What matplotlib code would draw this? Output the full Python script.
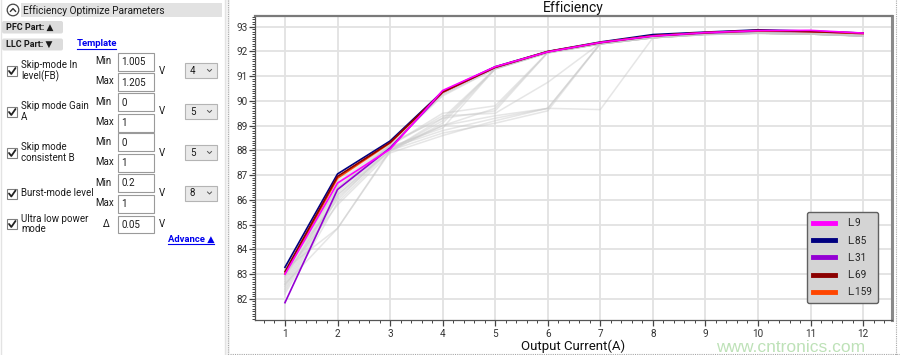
import matplotlib
matplotlib.use("Agg")
import matplotlib.pyplot as plt
from matplotlib.patches import FancyBboxPatch, Rectangle, Circle
from matplotlib.ticker import MultipleLocator

# ---------------- data ----------------
x_current = [1, 2, 3, 4, 5, 6, 7, 8, 9, 10, 11, 12]

L9 = [83.00, 86.68, 88.05, 90.42, 91.38, 91.98, 92.36, 92.62, 92.76, 92.84, 92.85, 92.74]
L85 = [83.28, 87.05, 88.38, 90.38, 91.38, 92.00, 92.38, 92.68, 92.78, 92.87, 92.82, 92.74]
L31 = [81.85, 86.42, 88.10, 90.35, 91.35, 91.98, 92.35, 92.62, 92.74, 92.82, 92.80, 92.72]
L69 = [83.10, 86.95, 88.32, 90.36, 91.36, 91.99, 92.36, 92.63, 92.76, 92.85, 92.80, 92.74]
L159 = [83.02, 86.88, 88.30, 90.35, 91.36, 91.99, 92.36, 92.63, 92.76, 92.83, 92.80, 92.72]

gray_runs = [
    [83.20, 86.90, 88.35, 90.30, 91.35, 91.97, 92.33, 92.58, 92.70, 92.76, 92.74, 92.66],
    [83.00, 86.70, 88.25, 90.25, 91.30, 91.95, 92.30, 92.55, 92.68, 92.74, 92.72, 92.64],
    [82.70, 86.50, 88.20, 90.20, 91.30, 91.93, 92.30, 92.55, 92.68, 92.73, 92.70, 92.62],
    [82.50, 86.30, 88.15, 90.30, 91.32, 91.95, 92.32, 92.56, 92.70, 92.75, 92.72, 92.64],
    [82.30, 86.10, 88.00, 89.30, 91.30, 91.96, 92.31, 92.56, 92.70, 92.74, 92.70, 92.63],
    [82.90, 86.20, 88.00, 89.00, 89.70, 91.95, 92.30, 92.55, 92.70, 92.74, 92.70, 92.63],
    [83.20, 84.85, 88.00, 89.20, 91.30, 91.95, 92.30, 92.55, 92.68, 92.74, 92.70, 92.63],
    [82.60, 84.85, 87.95, 89.10, 91.28, 91.94, 92.30, 92.55, 92.68, 92.73, 92.70, 92.62],
    [83.30, 86.00, 88.10, 88.80, 89.30, 89.70, 92.32, 92.56, 92.70, 92.74, 92.70, 92.63],
    [83.00, 85.80, 87.90, 88.60, 89.20, 89.70, 89.65, 92.55, 92.70, 92.74, 92.70, 92.63],
    [82.60, 86.40, 88.20, 89.40, 89.50, 90.75, 92.33, 92.56, 92.70, 92.74, 92.70, 92.63],
    [82.80, 86.60, 88.20, 89.50, 89.80, 91.96, 92.31, 92.56, 92.69, 92.74, 92.70, 92.63],
    [82.40, 86.20, 88.10, 89.00, 89.40, 89.70, 92.30, 92.55, 92.69, 92.73, 92.70, 92.62],
    [82.20, 85.90, 88.00, 88.70, 89.10, 89.60, 92.31, 92.55, 92.69, 92.73, 92.70, 92.62],
    [82.90, 86.80, 88.30, 89.30, 89.60, 91.95, 92.31, 92.56, 92.70, 92.74, 92.71, 92.63],
    [83.10, 86.50, 88.15, 88.90, 91.30, 91.95, 92.31, 92.56, 92.70, 92.74, 92.71, 92.63],
]

series_names = ["L.9", "L.85", "L.31", "L.69", "L.159"]
series_values = [L9, L85, L31, L69, L159]
series_colors = ["#ff00ff", "#000080", "#9400d3", "#8b0000", "#ff4500"]

x_ticks = list(range(1, 13))
y_ticks = list(range(82, 94))

FONT = ["Roboto", "DejaVu Sans"]
plt.rcParams["font.family"] = FONT

W, H = 900, 355
fig = plt.figure(figsize=(W / 100, H / 100), dpi=100)
fig.patch.set_facecolor("white")

# ---------------- UI overlay (pixel coordinates) ----------------
ui = fig.add_axes([0, 0, 1, 1], zorder=0)
ui.set_xlim(0, W)
ui.set_ylim(H, 0)
ui.axis("off")

TXT = "#1a1a1a"

def box(x0, y0, x1, y1, fc, ec, lw=0.8, r=0.0):
    if r > 0:
        p = FancyBboxPatch((x0, y0), x1 - x0, y1 - y0,
                           boxstyle=f"round,pad=0,rounding_size={r}",
                           fc=fc, ec=ec, lw=lw)
    else:
        p = Rectangle((x0, y0), x1 - x0, y1 - y0, fc=fc, ec=ec, lw=lw)
    ui.add_patch(p)

def txt(x, y, s, size=7.0, color=TXT, weight="normal", ha="left", va="center", **kw):
    ui.text(x, y, s, fontsize=size, color=color, fontweight=weight,
            ha=ha, va=va, family=FONT, **kw)

def checkbox(x, y):
    box(x, y, x + 10, y + 10, "white", "#808080", lw=0.8)
    ui.plot([x + 2, x + 4.3, x + 8.5], [y + 5, y + 8, y + 2], color="#222222", lw=1.3,
            solid_capstyle="round")

def entry(x0, y0, x1, y1, s):
    box(x0, y0, x1, y1, "white", "#9a9a9a", lw=0.8)
    txt(x0 + 3, (y0 + y1) / 2 + 0.5, s)

def dropdown(y0, y1, s):
    box(185, y0, 217, y1, "#e9e9e9", "#b4b4b4", lw=0.8)
    txt(190, (y0 + y1) / 2 + 0.5, s)
    cy = (y0 + y1) / 2
    ui.plot([207.5, 209.5, 211.5], [cy - 1, cy + 1, cy - 1], color="#555555", lw=0.7)

# panel borders / separators
ui.plot([0.5, 0.5], [0, H], color="#e3e3e3", lw=1)
ui.plot([224.5, 224.5], [0, H], color="#e3e3e3", lw=1)
ui.add_patch(Rectangle((225, 0), 5, H, fc="#f4f4f4", ec="none"))
ui.plot([228, 228], [0, H], color="#a8a8a8", lw=0.8, ls=(0, (1, 1)))
ui.plot([895.5, 895.5], [0, H], color="#a8a8a8", lw=0.8, ls=(0, (1, 1)))
ui.plot([230, 900], [353.5, 353.5], color="#a8a8a8", lw=0.8, ls=(0, (1, 1)))

# header
box(21, 3, 222, 16.5, "#e2e2e2", "none", lw=0)
ui.add_patch(Circle((13, 10), 5.8, fc="white", ec="#444444", lw=0.9))
ui.plot([10.5, 13, 15.5], [11.3, 8.6, 11.3], color="#333333", lw=1.0)
txt(23, 10.2, "Efficiency Optimize Parameters", size=7.3)

# PFC / LLC buttons
box(2, 21, 63, 33.5, "#dcdcdc", "none", lw=0, r=2)
txt(6, 27.5, "PFC Part: ▲", size=6.5, weight="bold")
box(2, 38.5, 63, 50.5, "#dcdcdc", "none", lw=0, r=2)
txt(6, 44.5, "LLC Part: ▼", size=6.5, weight="bold")
ui.text(77, 43.5, "Template", fontsize=6.8, color="#0000ee", fontweight="bold",
        ha="left", va="center", family=FONT)
ui.plot([77, 116], [48.5, 48.5], color="#0000ee", lw=0.8)

# rows
rows = [
    (["Skip-mode In", "level(FB)"], 52.5, "1.005", "1.205", "4", 70.5),
    (["Skip mode Gain", "A"], 93, "0", "1", "5", 111.5),
    (["Skip mode", "consistent B"], 133, "0", "1", "5", 152.5),
    (["Burst-mode level"], 174, "0.2", "1", "8", 193),
]
for labels, by, vmin, vmax, dd, cy in rows:
    checkbox(7, cy - 4.5)
    if len(labels) == 2:
        txt(21, cy - 5.5, labels[0])
        txt(21, cy + 5.5, labels[1])
    else:
        txt(21, cy, labels[0])
    txt(95, by + 9, "Min")
    entry(118, by, 154, by + 18, vmin)
    txt(95, by + 29, "Max")
    entry(118, by + 20.5, 154, by + 38.5, vmax)
    txt(159, cy, "V")
    dropdown(cy - 7.5, cy + 7.5, dd)

# ultra low power row
checkbox(7, 219)
txt(21, 218.5, "Ultra low power")
txt(21, 229.5, "mode")
txt(103, 224, "Δ", size=7)
entry(118, 215.5, 154, 232.5, "0.05")
txt(159, 224, "V")
ui.text(168, 239.5, "Advance ▲", fontsize=6.8, color="#0000ee", fontweight="bold",
        ha="left", va="center", family=FONT)
ui.plot([168, 214], [244, 244], color="#0000ee", lw=0.8)

# ---------------- chart ----------------
ax_l, ax_r, ax_t, ax_b = 255, 892, 16, 320
ax = fig.add_axes([ax_l / W, (H - ax_b) / H, (ax_r - ax_l) / W, (ax_b - ax_t) / H], zorder=1)
ax.set_facecolor("white")

for run in gray_runs:
    ax.plot(x_current, run, color="#c8c8c8", lw=1.1, alpha=0.45, zorder=2)

draw_order = [1, 2, 4, 3, 0]
for i in draw_order:
    ax.plot(x_current, series_values[i], color=series_colors[i], lw=1.2, zorder=3)
handles = [plt.Line2D([], [], color=c, lw=3.5) for c in series_colors]

ax.set_xlim(0.43, 12.55)
ax.set_ylim(81.15, 93.43)
ax.set_xticks(x_ticks)
ax.set_yticks(y_ticks)
ax.xaxis.set_minor_locator(MultipleLocator(0.2))
ax.yaxis.set_minor_locator(MultipleLocator(0.1))
ax.grid(True, which="major", color="#e2e2e2", lw=1.3, zorder=0)
ax.set_axisbelow(True)

ax.tick_params(axis="both", which="major", direction="out", length=4, width=0.9,
               color="#444444", labelsize=7.2, labelcolor="#333333", pad=1.5)
ax.tick_params(axis="both", which="minor", direction="out", length=2, width=0.7,
               color="#444444")
ax.tick_params(axis="x", which="major", pad=2.5)
ax.tick_params(top=False, right=False)

ax.spines["left"].set_color("#555555")
ax.spines["left"].set_linewidth(0.9)
ax.spines["bottom"].set_color("#555555")
ax.spines["bottom"].set_linewidth(0.9)
ax.spines["top"].set_color("#7a7a7a")
ax.spines["top"].set_linewidth(1.6)
ax.spines["right"].set_color("#8a8a8a")
ax.spines["right"].set_linewidth(2.2)

ax.set_title("Efficiency", fontsize=10, color="#111111", pad=3)
ax.set_xlabel("Output Current(A)", fontsize=9.5, color="#111111", labelpad=0.5)

leg = ax.legend(handles, series_names, loc="lower right",
                bbox_to_anchor=(0.978, 0.055), borderaxespad=0,
                fontsize=7.2, frameon=True, fancybox=True,
                facecolor="#d4d4d4", edgecolor="#606060", framealpha=1,
                handlelength=2.2, handletextpad=1.2, labelspacing=0.72,
                borderpad=0.6)
leg.get_frame().set_linewidth(1.0)
for tx in leg.get_texts():
    tx.set_color("#222222")

# watermark
fig.text(716 / W, 1 - 347 / H, "www.cntronics.com", fontsize=12.5, color="#a8d8a0",
         alpha=0.75, ha="left", va="center", family=["Liberation Sans", "DejaVu Sans"],
         zorder=5)

fig.savefig("out.png", dpi=100)
